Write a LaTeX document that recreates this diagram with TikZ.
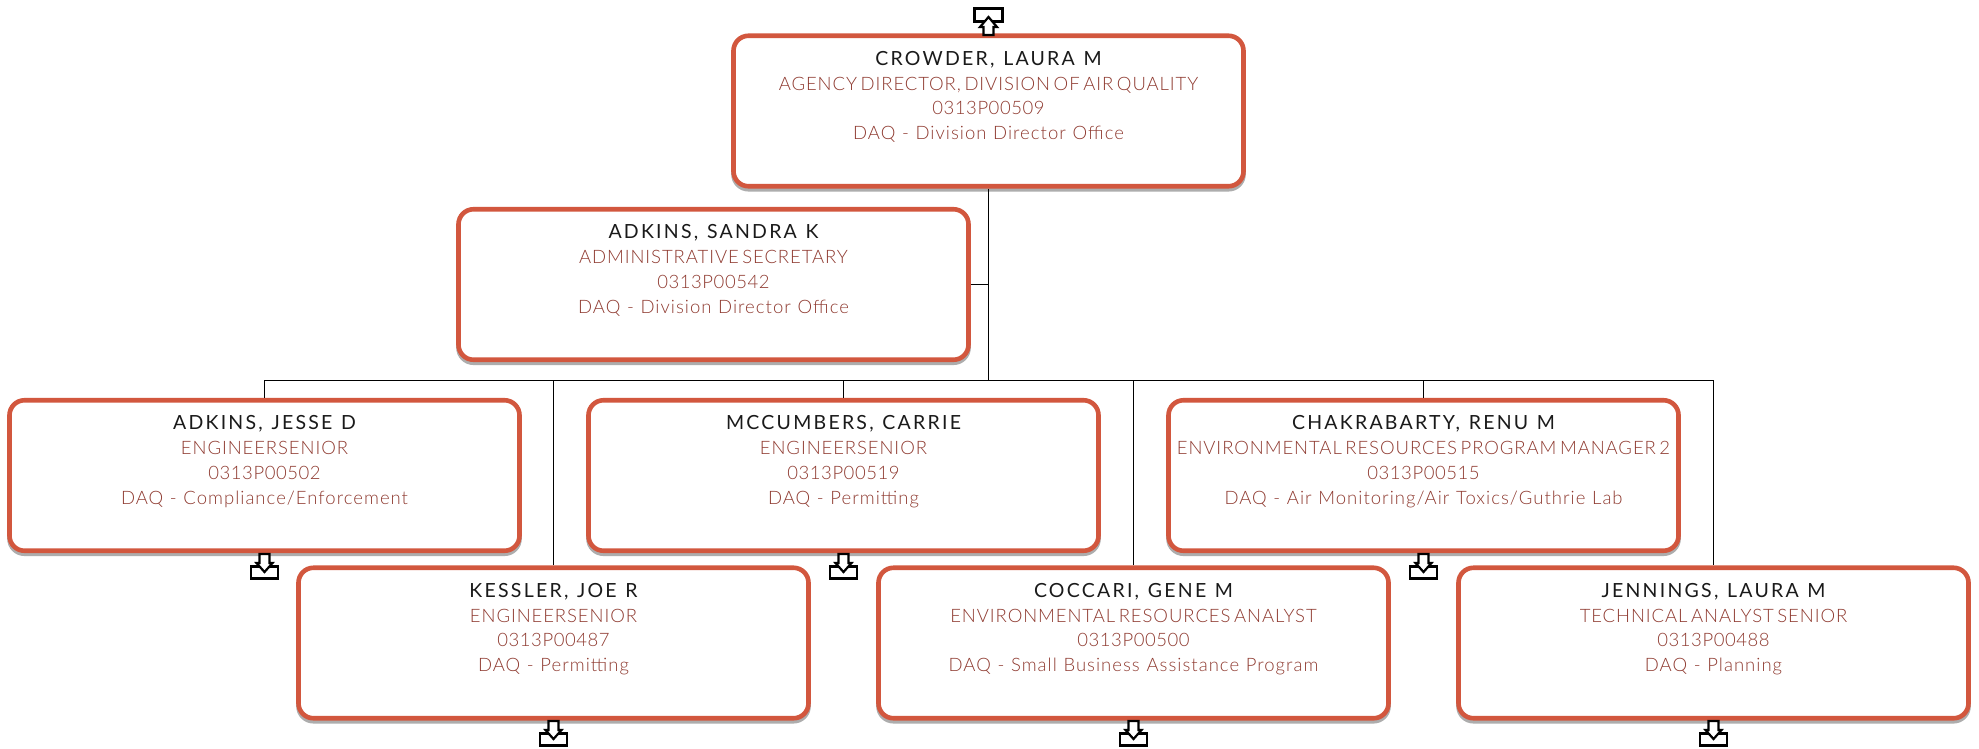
\documentclass[tikz,border=0pt]{standalone}
\usepackage{fontspec}
\setmainfont{Lato}
\definecolor{boxred}{HTML}{D2573E}
\definecolor{txtred}{HTML}{8F3A30}
\definecolor{namecol}{HTML}{1A1A1A}
\newfontfamily\namefont{Lato}[LetterSpace=11.5,WordSpace=1.2]
\newfontfamily\titlefont{Lato Light}[LetterSpace=5,WordSpace=0.6]
\newfontfamily\numfont{Lato Light}[LetterSpace=3]
\newfontfamily\deptfont{Lato Light}[LetterSpace=5.5,WordSpace=1.1]
\newcommand{\rowstrut}{\rule[-7pt]{0pt}{23.8pt}}
\tikzset{
 x=1pt,y=-1pt,
 orgbox/.style={draw=boxred,line width=4.6pt,fill=white,rounded corners=15pt,minimum width=510pt,minimum height=150.5pt,inner sep=0pt,align=center,text=txtred,
  preaction={draw=black!32,transform canvas={yshift=-3pt}}},
 conn/.style={draw=black,line width=1.2pt},
 iconrect/.style={draw=black,line width=2.2pt,fill=white,minimum width=27pt,minimum height=12pt,inner sep=0pt},
 iconarrow/.style={draw=black,line width=2.2pt,fill=white,line join=miter},
}
\newcommand{\orgtext}[4]{\rowstrut\fontsize{19.5}{25}\selectfont\namefont\textcolor{namecol}{#1}\\
 \rowstrut\fontsize{18.5}{25}\selectfont\titlefont #2\\
 \rowstrut\fontsize{18.5}{25}\selectfont\numfont #3\\
 \rowstrut\fontsize{18.5}{25}\selectfont\deptfont #4\\
 \rule[-7pt]{0pt}{26pt}}
\newcommand{\downicon}[2]{%
 \node[iconrect] (#1) at (#2,572.5) {};
 \draw[iconarrow] (#2-5,554)--(#2+5,554)--(#2+5,563)--(#2+8,563)--(#2,572)--(#2-8,563)--(#2-5,563)--cycle;
}
\begin{document}
\begin{tikzpicture}
\useasboundingbox (0,0) rectangle (1979,748);
\fill[white] (0,0) rectangle (1979,748);
\coordinate (bus) at (988.5,380.5);
\node[orgbox] (crowder) at (988.5,111) {\orgtext{CROWDER, LAURA M}{AGENCY DIRECTOR, DIVISION OF AIR QUALITY}{0313P00509}{DAQ - Division Director Office}};
\node[orgbox] (sandra) at (713.5,284.5) {\orgtext{ADKINS, SANDRA K}{ADMINISTRATIVE SECRETARY}{0313P00542}{DAQ - Division Director Office}};
\node[orgbox] (jesse) at (264.5,475.5) {\orgtext{ADKINS, JESSE D}{ENGINEERSENIOR}{0313P00502}{DAQ - Compliance/Enforcement}};
\node[orgbox] (carrie) at (843.5,475.5) {\orgtext{MCCUMBERS, CARRIE}{ENGINEERSENIOR}{0313P00519}{DAQ - Permitting}};
\node[orgbox] (renu) at (1423.5,475.5) {\orgtext{CHAKRABARTY, RENU M}{ENVIRONMENTAL RESOURCES PROGRAM MANAGER 2}{0313P00515}{DAQ - Air Monitoring/Air Toxics/Guthrie Lab}};
\node[orgbox] (joe) at (553.5,643) {\orgtext{KESSLER, JOE R}{ENGINEERSENIOR}{0313P00487}{DAQ - Permitting}};
\node[orgbox] (gene) at (1133.5,643) {\orgtext{COCCARI, GENE M}{ENVIRONMENTAL RESOURCES ANALYST}{0313P00500}{DAQ - Small Business Assistance Program}};
\node[orgbox] (laura) at (1713.5,643) {\orgtext{JENNINGS, LAURA M}{TECHNICAL ANALYST SENIOR}{0313P00488}{DAQ - Planning}};
\draw[conn] (crowder.south) -- (crowder.south |- bus);
\draw[conn] (sandra.east) -- (crowder.south |- sandra.east);
\draw[conn] (jesse.north) -- (jesse.north |- bus) -- (laura.north |- bus) -- (laura.north);
\draw[conn] (carrie.north) -- (carrie.north |- bus);
\draw[conn] (renu.north) -- (renu.north |- bus);
\draw[conn] (joe.north) -- (joe.north |- bus);
\draw[conn] (gene.north) -- (gene.north |- bus);
\node[iconrect,minimum width=28pt,minimum height=13pt] (upi) at (988.5,15) {};
\draw[iconarrow] (983.5,35)--(993.5,35)--(993.5,27)--(997,27)--(988.5,17)--(980,27)--(983.5,27)--cycle;
\downicon{d1}{264.5}
\downicon{d2}{843.5}
\downicon{d3}{1423.5}
\begin{scope}[yshift=-167pt]
\downicon{d4}{553.5}
\downicon{d5}{1133.5}
\downicon{d6}{1713.5}
\end{scope}
\end{tikzpicture}
\end{document}
